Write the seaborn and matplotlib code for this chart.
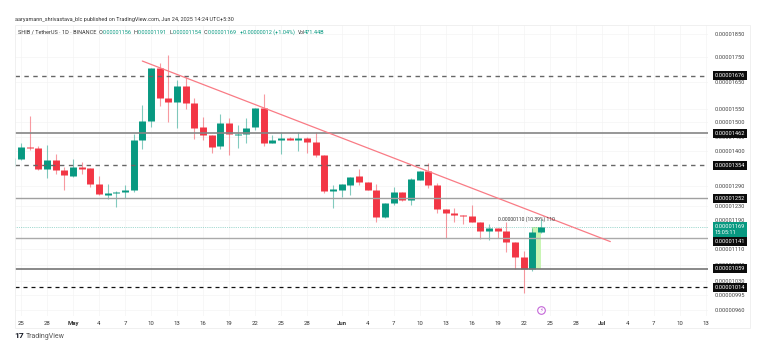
import pandas as pd
import seaborn as sns
import matplotlib.pyplot as plt
from matplotlib.patches import Rectangle

# prices are in units of 0.00000001 USDT
first_day = "2025-04-24"
opens = [1352, 1374, 1414, 1411, 1342, 1371, 1339, 1320, 1349, 1345, 1295, 1261, 1267, 1270, 1276, 1438,
         1504, 1706, 1589, 1573, 1635, 1570, 1483, 1455, 1418, 1497, 1457, 1458, 1483, 1551, 1428, 1438,
         1445, 1438, 1445, 1431, 1387, 1273, 1276, 1292, 1320, 1301, 1276, 1197, 1238, 1270, 1246, 1307,
         1336, 1292, 1220, 1209, 1203, 1200, 1183, 1158, 1166, 1158, 1128, 1089, 1058, 1156]
highs = [1378, 1428, 1522, 1418, 1421, 1390, 1349, 1374, 1365, 1345, 1320, 1295, 1273, 1292, 1458, 1562,
         1706, 1727, 1760, 1658, 1670, 1589, 1519, 1455, 1530, 1515, 1490, 1515, 1551, 1604, 1455, 1465,
         1448, 1465, 1448, 1465, 1387, 1292, 1295, 1317, 1342, 1301, 1295, 1238, 1286, 1270, 1313, 1336,
         1361, 1298, 1220, 1223, 1203, 1232, 1183, 1177, 1166, 1183, 1128, 1104, 1166, 1191]
lows = [1352, 1371, 1404, 1339, 1313, 1326, 1276, 1317, 1326, 1286, 1261, 1249, 1226, 1252, 1270, 1407,
        1483, 1558, 1501, 1479, 1547, 1441, 1438, 1394, 1407, 1387, 1411, 1428, 1472, 1418, 1428, 1390,
        1438, 1401, 1394, 1381, 1267, 1223, 1255, 1261, 1292, 1276, 1185, 1194, 1232, 1243, 1232, 1307,
        1282, 1209, 1139, 1183, 1177, 1183, 1136, 1133, 1141, 1102, 1058, 1001, 1053, 1154]
closes = [1378, 1414, 1411, 1342, 1371, 1339, 1323, 1349, 1342, 1295, 1264, 1267, 1270, 1276, 1438, 1504,
          1706, 1589, 1573, 1635, 1570, 1479, 1455, 1414, 1497, 1458, 1458, 1479, 1551, 1428, 1438, 1445,
          1438, 1445, 1431, 1387, 1273, 1279, 1295, 1317, 1301, 1276, 1197, 1238, 1270, 1246, 1310, 1336,
          1292, 1220, 1209, 1203, 1200, 1183, 1158, 1166, 1158, 1128, 1089, 1058, 1155, 1169]

price_ticks = [1850, 1750, 1650, 1550, 1500, 1450, 1400, 1290, 1230, 1190, 1110, 1070, 1030, 995, 960]
level_prices = [1676, 1462, 1354, 1252, 1141, 1059, 1014]
level_styles = [("--", "#666666", 1.0), ("-", "#858585", 1.2), ("--", "#666666", 1.0), ("-", "#a0a0a0", 1.0),
                ("-", "#aaaaaa", 1.0), ("-", "#757575", 1.2), ("--", "#111111", 0.9)]
level_shift = [0, 0, 0, 0, -3, 0, 0]
current_price = 1169
trend_dates = ["2025-05-09", "2025-07-02"]
trend_prices = [1735, 1130]
range_dates = ["2025-06-23", "2025-06-24"]
range_low, range_high = 1059, 1169

x_labels = {"2025-04-25": "25", "2025-04-28": "28", "2025-05-01": "May", "2025-05-04": "4", "2025-05-07": "7",
            "2025-05-10": "10", "2025-05-13": "13", "2025-05-16": "16", "2025-05-19": "19", "2025-05-22": "22",
            "2025-05-25": "25", "2025-05-28": "28", "2025-06-01": "Jun", "2025-06-04": "4", "2025-06-07": "7",
            "2025-06-10": "10", "2025-06-13": "13", "2025-06-16": "16", "2025-06-19": "19", "2025-06-22": "22",
            "2025-06-25": "25", "2025-06-28": "28", "2025-07-01": "Jul", "2025-07-04": "4", "2025-07-07": "7",
            "2025-07-10": "10", "2025-07-13": "13"}

GREEN = "#089981"
RED = "#f23645"
W, H = 776, 353

sns.set_theme(style="whitegrid")
plt.rcParams["font.family"] = ["Roboto", "DejaVu Sans"]

df = pd.DataFrame({"date": pd.date_range(first_day, periods=len(opens)), "open": opens, "high": highs,
                   "low": lows, "close": closes})
df["side"] = ["up" if c >= o else "down" for o, c in zip(df.open, df.close)]
wicks = df.melt(id_vars=["date", "side"], value_vars=["high", "low"], value_name="price")
bodies = df.melt(id_vars=["date", "side"], value_vars=["open", "close"], value_name="price")
palette = {"up": GREEN, "down": RED}

fig = plt.figure(figsize=(W / 100, H / 100), dpi=100, facecolor="white")
ax = fig.add_axes([15 / W, 1 - 316 / H, 693 / W, 291 / H])
ax.set_yscale("log")

ax.fill_between(pd.to_datetime(range_dates), range_low, range_high, color="#c9f5b5", lw=0, zorder=1)
sns.lineplot(data=wicks, x="date", y="price", hue="side", units="date", estimator=None, palette=palette,
             linewidth=0.8, alpha=0.5, solid_capstyle="butt", legend=False, ax=ax, zorder=2)
sns.lineplot(data=bodies, x="date", y="price", hue="side", units="date", estimator=None, palette=palette,
             linewidth=5.0, solid_capstyle="butt", legend=False, ax=ax, zorder=3)

for price, (ls, col, lw) in zip(level_prices, level_styles):
    if ls == "--":
        ax.axhline(price, color=col, lw=lw, zorder=4, dashes=(3.2, 3.2))
    else:
        ax.axhline(price, color=col, lw=lw, zorder=4)
ax.axhline(current_price, ls=":", color=GREEN, lw=0.5, alpha=0.7, zorder=4)
sns.lineplot(x=pd.to_datetime(trend_dates), y=trend_prices, color="#f97b85", linewidth=0.9, ax=ax, zorder=5)
sns.scatterplot(x=pd.to_datetime(["2025-06-24"]), y=[960], s=30, facecolor="white", edgecolor="#c466d8",
                linewidth=0.8, ax=ax, zorder=5)
ax.text(pd.Timestamp("2025-06-24"), 960, "\u26a1", color="#c466d8", fontsize=4, ha="center", va="center",
        family="DejaVu Sans", zorder=6)
ax.text(pd.Timestamp("2025-06-19"), 1193, "0.00000110 (10.39%) 110", fontsize=3.6,
        color="#333333", ha="left", va="center", zorder=6)

ax.set_xlim(pd.Timestamp("2025-04-25") - pd.Timedelta(days=0.69), pd.Timestamp("2025-04-25") + pd.Timedelta(days=79.27))
ax.set_ylim(947, 1890)
ax.set_xticks(pd.to_datetime(list(x_labels)))
ax.set_xticklabels(list(x_labels.values()), fontsize=4.3, color="#333333")
for lab in ax.get_xticklabels():
    if lab.get_text() in ("May", "Jun", "Jul"):
        lab.set_fontweight("bold")
ax.minorticks_off()
ax.set_yticks(price_ticks)
ax.set_yticklabels([f"{v / 1e8:.8f}" for v in price_ticks], fontsize=4.1, color="#444444")
ax.yaxis.tick_right()
ax.tick_params(axis="y", pad=5, length=0)
ax.tick_params(axis="x", pad=3.5, length=0)
ax.set_xlabel("")
ax.set_ylabel("")
ax.grid(True, color="#f4f4f4", lw=0.5)
ax.set_axisbelow(True)
sns.despine(ax=ax, left=True, bottom=True, right=True, top=True)

ytrans = ax.get_yaxis_transform()
for price, shift in zip(level_prices, level_shift):
    ax.annotate(f"{price / 1e8:.8f}", xy=(1, price), xycoords=ytrans, xytext=(5, shift), textcoords="offset points",
                ha="left", va="center", fontsize=4.1, color="white", zorder=7, annotation_clip=False,
                bbox=dict(boxstyle="square,pad=0.35", fc="#0c0c0c", ec="none"))
ax.annotate(f"{current_price / 1e8:.8f}\n15:05:11", xy=(1, current_price), xycoords=ytrans, xytext=(5, -1.5),
            textcoords="offset points", ha="left", va="center", fontsize=4.1, color="white", zorder=8,
            annotation_clip=False, linespacing=1.3, bbox=dict(boxstyle="square,pad=0.35", fc=GREEN, ec="none"))

fig.add_artist(Rectangle((15 / W, 1 - 328 / H), 735 / W, 303 / H, transform=fig.transFigure, fc="none",
                         ec="#eeeeee", lw=0.6))


def px_text(x, y, s, **kw):
    kw.setdefault("fontsize", 4.0)
    kw.setdefault("color", "#333333")
    fig.text(x / W, 1 - y / H, s, va="center", ha="left", **kw)


px_text(15, 20, "aaryamann_shrivastava_blc published on TradingView.com, Jun 24, 2025 14:24 UTC+5:30")
px_text(18, 32, "SHIB / TetherUS \u00b7 1D \u00b7 BINANCE")
for x, head, val in [(99, "O", "0.00001156"), (134, "H", "0.00001191"), (169, "L", "0.00001154"),
                     (204, "C", "0.00001169")]:
    px_text(x, 32, head)
    px_text(x + 4, 32, val, color=GREEN)
px_text(240, 32, "+0.00000012 (+1.04%)", color=GREEN)
px_text(298, 32, "Vol", fontsize=3.6)
px_text(304, 32, "471.44B", color=GREEN)
px_text(14.5, 336, "17", fontsize=6, fontweight="bold", color="#131722")
px_text(26, 336, "TradingView", fontsize=5.0, color="#555555")

fig.savefig("out.png", dpi=100)
